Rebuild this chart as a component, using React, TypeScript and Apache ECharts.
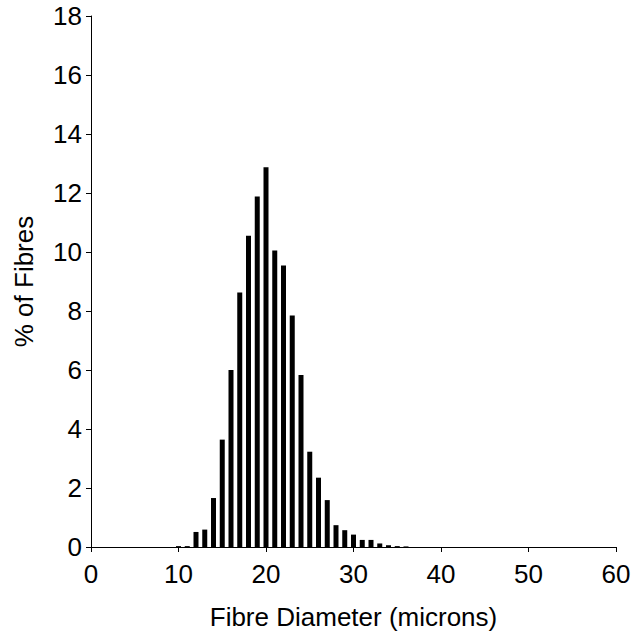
import React, { useEffect, useRef } from "react";
import * as echarts from "echarts";

const diameters = [10, 11, 12, 13, 14, 15, 16, 17, 18, 19, 20, 21, 22, 23, 24, 25, 26, 27, 28, 29, 30, 31, 32, 33, 34, 35, 36];
const percentFibres = [0.03, 0.03, 0.51, 0.59, 1.66, 3.64, 6.0, 8.63, 10.55, 11.88, 12.87, 10.05, 9.54, 7.85, 5.83, 3.23, 2.35, 1.59, 0.74, 0.57, 0.42, 0.24, 0.24, 0.12, 0.06, 0.03, 0.02];
const xTicks = { min: 0, max: 60, interval: 10 };
const yTicks = { min: 0, max: 18, interval: 2 };

export default function App() {
  const ref = useRef<HTMLDivElement>(null);
  useEffect(() => {
    if (!ref.current) return;
    const chart = echarts.init(ref.current, null, { renderer: "svg" });
    const font = "'Liberation Sans', Arial, sans-serif";
    chart.setOption({
      animation: false,
      backgroundColor: "#ffffff",
      grid: { left: 91, right: 19, top: 16, bottom: 95, containLabel: false },
      xAxis: {
        type: "value",
        min: xTicks.min,
        max: xTicks.max,
        interval: xTicks.interval,
        name: "Fibre Diameter (microns)",
        nameLocation: "middle",
        nameGap: 57,
        nameTextStyle: { color: "#000", fontSize: 26, fontFamily: font },
        axisLine: { show: true, lineStyle: { color: "#000", width: 1 } },
        axisTick: { show: true, length: 5, lineStyle: { color: "#000" } },
        axisLabel: { color: "#000", fontSize: 26, fontFamily: font, margin: 14 },
        splitLine: { show: false },
      },
      yAxis: {
        type: "value",
        min: yTicks.min,
        max: yTicks.max,
        interval: yTicks.interval,
        name: "% of Fibres",
        nameLocation: "middle",
        nameGap: 54,
        nameRotate: 90,
        nameTextStyle: { color: "#000", fontSize: 26, fontFamily: font },
        axisLine: { show: true, lineStyle: { color: "#000", width: 1 } },
        axisTick: { show: true, length: 5, lineStyle: { color: "#000" } },
        axisLabel: { color: "#000", fontSize: 26, fontFamily: font, margin: 9 },
        splitLine: { show: false },
      },
      series: [
        {
          type: "bar",
          data: diameters.map((d, i) => [d, percentFibres[i]]),
          barWidth: 5,
          itemStyle: { color: "#000" },
        },
      ],
    });
    return () => chart.dispose();
  }, []);
  return (
    <div
      ref={ref}
      style={{ position: "fixed", left: 0, top: 0, width: 635, height: 642 }}
    />
  );
}
